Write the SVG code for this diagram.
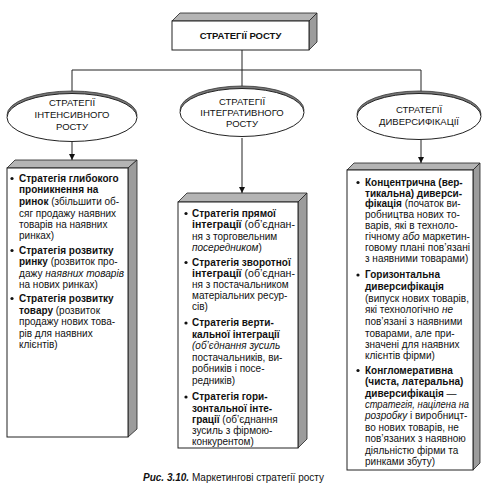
<svg xmlns="http://www.w3.org/2000/svg" width="482" height="495" viewBox="0 0 482 495">
<style>
text{font-family:"Liberation Sans",Arial,sans-serif;fill:#111}
.t{font-size:10px}
.e{font-size:9.5px;text-anchor:middle}
.h{font-size:9.5px;font-weight:bold;text-anchor:middle}
.b{font-weight:bold}
.i{font-style:italic}
.face{fill:#fff;stroke:#222;stroke-width:1}
.top{fill:#b4b4b4;stroke:#222;stroke-width:0.8}
.side{fill:#9c9c9c;stroke:#222;stroke-width:0.8}
.sh{fill:#777;stroke:#333;stroke-width:0.8}
.conn{stroke:#222;stroke-width:1;fill:none}
.dot{fill:#111}
</style>
<defs>
<marker id="ar" viewBox="0 0 8 10" refX="8" refY="5" markerWidth="6" markerHeight="8" orient="auto" markerUnits="userSpaceOnUse">
<path d="M0,1 L8,5 L0,9 z" fill="#111"/>
</marker>
</defs>
<rect width="482" height="495" fill="#fff"/>

<g id="connectors">
<line class="conn" x1="242" y1="50" x2="242" y2="70"/>
<line class="conn" x1="72" y1="70" x2="421" y2="70"/>
<line class="conn" x1="72" y1="70" x2="72" y2="92"/>
<line class="conn" x1="242" y1="70" x2="242" y2="86"/>
<line class="conn" x1="421" y1="70" x2="421" y2="92"/>
<line class="conn" x1="72" y1="142" x2="72" y2="160" marker-end="url(#ar)"/>
<line class="conn" x1="242" y1="138" x2="242" y2="193" marker-end="url(#ar)"/>
<line class="conn" x1="421" y1="140" x2="421" y2="163" marker-end="url(#ar)"/>
</g>

<g id="root">
<polygon class="top" points="172,21 180,13 317,13 309,21"/>
<polygon class="side" points="309,21 317,13 317,42 309,50"/>
<rect class="face" x="172" y="21" width="137" height="29"/>
<text class="h" x="240.5" y="39">СТРАТЕГІЇ РОСТУ</text>
</g>

<g id="intensive">
<ellipse class="sh" cx="72" cy="115" rx="65" ry="24"/>
<ellipse class="face" cx="72" cy="117.5" rx="65" ry="24"/>
<text class="e" x="72" y="106">СТРАТЕГІЇ</text>
<text class="e" x="72" y="118">ІНТЕНСИВНОГО</text>
<text class="e" x="72" y="130">РОСТУ</text>
</g>

<g id="integrative">
<ellipse class="sh" cx="242" cy="110" rx="62" ry="24"/>
<ellipse class="face" cx="242" cy="112.5" rx="62" ry="24"/>
<text class="e" x="242" y="105">СТРАТЕГІЇ</text>
<text class="e" x="242" y="116">ІНТЕГРАТИВНОГО</text>
<text class="e" x="242" y="127">РОСТУ</text>
</g>

<g id="diversification">
<ellipse class="sh" cx="419" cy="114" rx="62" ry="23"/>
<ellipse class="face" cx="419" cy="116.5" rx="62" ry="23"/>
<text class="e" x="419" y="113">СТРАТЕГІЇ</text>
<text class="e" x="419" y="125">ДИВЕРСИФІКАЦІЇ</text>
</g>

<g id="intensive-box">
<polygon class="top" points="7,168 15,160 137,160 128,168"/>
<polygon class="side" points="128,168 137,160 137,429 128,437"/>
<rect class="face" x="7" y="168" width="121" height="269"/>
<circle class="dot" cx="12" cy="178.5" r="1.6"/>
<text class="t" x="19" y="181.5"><tspan class="b">Стратегія глибокого</tspan></text>
<text class="t" x="19" y="193"><tspan class="b">проникнення на</tspan></text>
<text class="t" x="19" y="205"><tspan class="b">ринок</tspan> (збільшити об-</text>
<text class="t" x="19" y="216.5">сяг продажу наявних</text>
<text class="t" x="19" y="227.5">товарів на наявних</text>
<text class="t" x="19" y="238.5">ринках)</text>
<circle class="dot" cx="12" cy="250.5" r="1.6"/>
<text class="t" x="19" y="253.5"><tspan class="b">Стратегія розвитку</tspan></text>
<text class="t" x="19" y="265"><tspan class="b">ринку</tspan> (розвиток про-</text>
<text class="t" x="19" y="276.5" textLength="105" lengthAdjust="spacingAndGlyphs">дажу <tspan class="i">наявних товарів</tspan></text>
<text class="t" x="19" y="287.5">на нових ринках)</text>
<circle class="dot" cx="12" cy="298.5" r="1.6"/>
<text class="t" x="19" y="301.5"><tspan class="b">Стратегія розвитку</tspan></text>
<text class="t" x="19" y="313.5"><tspan class="b">товару</tspan> (розвиток</text>
<text class="t" x="19" y="325">продажу нових това-</text>
<text class="t" x="19" y="336.5">рів для наявних</text>
<text class="t" x="19" y="347.5">клієнтів)</text>
</g>

<g id="integrative-box">
<polygon class="top" points="178,202 187,193 307,193 298,202"/>
<polygon class="side" points="298,202 307,193 307,439 298,448"/>
<rect class="face" x="178" y="202" width="120" height="246"/>
<circle class="dot" cx="186" cy="213.5" r="1.6"/>
<text class="t" x="192" y="216.5"><tspan class="b">Стратегія прямої</tspan></text>
<text class="t" x="192" y="228" textLength="103" lengthAdjust="spacingAndGlyphs"><tspan class="b">інтеграції</tspan> (об’єднан-</text>
<text class="t" x="192" y="239.5">ня з торговельним</text>
<text class="t" x="192" y="250.5"><tspan class="i">посередником</tspan>)</text>
<circle class="dot" cx="186" cy="262.5" r="1.6"/>
<text class="t" x="192" y="265.5"><tspan class="b">Стратегія зворотної</tspan></text>
<text class="t" x="192" y="277" textLength="103" lengthAdjust="spacingAndGlyphs"><tspan class="b">інтеграції</tspan> (об’єднан-</text>
<text class="t" x="192" y="288">ня з постачальником</text>
<text class="t" x="192" y="299">матеріальних ресур-</text>
<text class="t" x="192" y="310">сів)</text>
<circle class="dot" cx="186" cy="323" r="1.6"/>
<text class="t" x="192" y="326"><tspan class="b">Стратегія верти-</tspan></text>
<text class="t" x="192" y="337.5"><tspan class="b">кальної інтеграції</tspan></text>
<text class="t" x="192" y="349"><tspan class="i">(об’єднання зусиль</tspan></text>
<text class="t" x="192" y="360.5">постачальників, ви-</text>
<text class="t" x="192" y="372">робників і посе-</text>
<text class="t" x="192" y="383.5">редників)</text>
<circle class="dot" cx="186" cy="397" r="1.6"/>
<text class="t" x="192" y="400"><tspan class="b">Стратегія гори-</tspan></text>
<text class="t" x="192" y="411.5"><tspan class="b">зонтальної інте-</tspan></text>
<text class="t" x="192" y="423"><tspan class="b">грації</tspan> (об’єднання</text>
<text class="t" x="192" y="434">зусиль з фірмою-</text>
<text class="t" x="192" y="445">конкурентом)</text>
</g>

<g id="diversification-box">
<polygon class="top" points="347,170 354,163 480,163 473,170"/>
<polygon class="side" points="473,170 480,163 480,463 473,470"/>
<rect class="face" x="347" y="170" width="126" height="300"/>
<circle class="dot" cx="358" cy="182.5" r="1.6"/>
<text class="t" x="365" y="185.5"><tspan class="b">Концентрична (вер-</tspan></text>
<text class="t" x="365" y="196.5"><tspan class="b">тикальна) диверси-</tspan></text>
<text class="t" x="365" y="207"><tspan class="b">фікація</tspan> (початок ви-</text>
<text class="t" x="365" y="218">робництва нових то-</text>
<text class="t" x="365" y="229">варів, які в техноло-</text>
<text class="t" x="365" y="240" textLength="105" lengthAdjust="spacingAndGlyphs">гічному <tspan class="i">або</tspan> маркетин-</text>
<text class="t" x="365" y="251" textLength="105" lengthAdjust="spacingAndGlyphs">говому плані пов’язані</text>
<text class="t" x="365" y="262">з наявними товарами)</text>
<circle class="dot" cx="358" cy="275" r="1.6"/>
<text class="t" x="365" y="278"><tspan class="b">Горизонтальна</tspan></text>
<text class="t" x="365" y="290"><tspan class="b">диверсифікація</tspan></text>
<text class="t" x="365" y="301.5" textLength="104" lengthAdjust="spacingAndGlyphs">(випуск нових товарів,</text>
<text class="t" x="365" y="313">які технологічно <tspan class="i">не</tspan></text>
<text class="t" x="365" y="325">пов’язані з наявними</text>
<text class="t" x="365" y="336.5">товарами, але при-</text>
<text class="t" x="365" y="347.5">значені для наявних</text>
<text class="t" x="365" y="358.5">клієнтів фірми)</text>
<circle class="dot" cx="358" cy="370.5" r="1.6"/>
<text class="t" x="365" y="373.5"><tspan class="b">Конгломеративна</tspan></text>
<text class="t" x="365" y="385"><tspan class="b">(чиста, латеральна)</tspan></text>
<text class="t" x="365" y="396.5"><tspan class="b">диверсифікація</tspan> —</text>
<text class="t" x="365" y="407.5" textLength="104" lengthAdjust="spacingAndGlyphs"><tspan class="i">стратегія, націлена на</tspan></text>
<text class="t" x="365" y="419"><tspan class="i">розробку</tspan> і виробницт-</text>
<text class="t" x="365" y="430.5">во нових товарів, не</text>
<text class="t" x="365" y="442">пов’язаних з наявною</text>
<text class="t" x="365" y="453.5">діяльністю фірми та</text>
<text class="t" x="365" y="465">ринками збуту)</text>
</g>

<text class="t" x="143" y="481"><tspan class="b i">Рис. 3.10.</tspan> Маркетингові стратегії росту</text>
</svg>
